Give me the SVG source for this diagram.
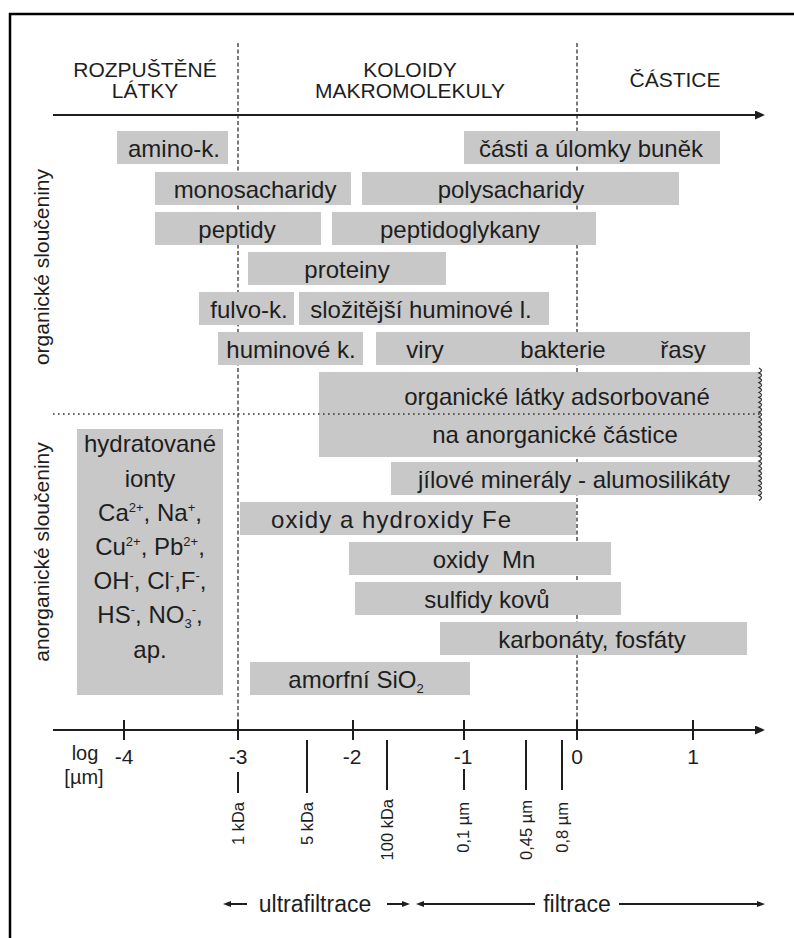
<svg xmlns="http://www.w3.org/2000/svg" width="794" height="938" viewBox="0 0 794 938">
<defs>
<style>
text { font-family: "Liberation Sans", Arial, Helvetica, sans-serif; fill: #1e1e1e; }
.box { fill: #c8c8c8; }
.lbl { font-size: 24px; text-anchor: middle; }
.hdr { font-size: 21px; text-anchor: middle; }
.ax { font-size: 21px; text-anchor: middle; }
.unit { font-size: 20px; text-anchor: middle; }
.rot { font-size: 16.5px; text-anchor: end; }
.side { font-size: 21px; text-anchor: middle; }
.bot { font-size: 23px; text-anchor: middle; }
.sup { font-size: 13px; }
.ln { stroke: #1e1e1e; stroke-width: 2; fill: none; }
.tk { stroke: #1e1e1e; stroke-width: 2; }
.dash { stroke: #333; stroke-width: 1.3; stroke-dasharray: 4 2.5; fill: none; }
.dot { stroke: #333; stroke-width: 1.6; stroke-dasharray: 1.6 3.4; fill: none; }
.wave { stroke: #333; stroke-width: 1.3; fill: none; }
</style>
<marker id="ah" viewBox="0 0 10 9" refX="4" refY="4.5" markerWidth="10" markerHeight="9" markerUnits="userSpaceOnUse" orient="auto">
<path d="M0,0 L10,4.5 L0,9 z" fill="#1e1e1e"/>
</marker>
<marker id="ahs" viewBox="0 0 8 6" refX="2" refY="3" markerWidth="8" markerHeight="6" markerUnits="userSpaceOnUse" orient="auto">
<path d="M0,0 L8,3 L0,6 z" fill="#1e1e1e"/>
</marker>
</defs>
<rect width="794" height="938" fill="#fff"/>
<rect x="10" y="14" width="800" height="940" fill="none" stroke="#000" stroke-width="2.5"/>

<g id="headers">
<text class="hdr" x="145" y="77">ROZPUŠTĚNÉ</text>
<text class="hdr" x="145" y="98">LÁTKY</text>
<text class="hdr" x="410" y="77">KOLOIDY</text>
<text class="hdr" x="410" y="98">MAKROMOLEKULY</text>
<text class="hdr" x="675" y="87">ČÁSTICE</text>
</g>

<g id="guides">
<line class="dash" x1="238" y1="43" x2="238" y2="730"/>
<line class="dash" x1="577" y1="43" x2="577" y2="730"/>
</g>

<g id="side-labels">
<text class="side" transform="translate(49,267) rotate(-90)">organické sloučeniny</text>
<text class="side" transform="translate(49,552) rotate(-90)">anorganické sloučeniny</text>
</g>

<g id="amino-k"><rect class="box" x="117" y="131" width="111" height="33"/><text class="lbl" x="174" y="157">amino-k.</text></g>
<g id="casti"><rect class="box" x="464" y="131" width="256" height="33"/><text class="lbl" x="591" y="157">části a úlomky buněk</text></g>
<g id="monosacharidy"><rect class="box" x="155" y="172" width="196" height="33"/><text class="lbl" x="255" y="198">monosacharidy</text></g>
<g id="polysacharidy"><rect class="box" x="362" y="172" width="317" height="33"/><text class="lbl" x="511" y="198">polysacharidy</text></g>
<g id="peptidy"><rect class="box" x="155" y="212" width="166" height="33"/><text class="lbl" x="237" y="238">peptidy</text></g>
<g id="peptidoglykany"><rect class="box" x="332" y="212" width="264" height="33"/><text class="lbl" x="460" y="238">peptidoglykany</text></g>
<g id="proteiny"><rect class="box" x="248" y="252" width="198" height="33"/><text class="lbl" x="347" y="278">proteiny</text></g>
<g id="fulvo-k"><rect class="box" x="199" y="292" width="95" height="33"/><text class="lbl" x="249" y="318">fulvo-k.</text></g>
<g id="slozitejsi"><rect class="box" x="299" y="292" width="250" height="33"/><text class="lbl" x="421" y="318">složitější huminové l.</text></g>
<g id="huminove-k"><rect class="box" x="218" y="332" width="145" height="33"/><text class="lbl" x="291" y="358">huminové k.</text></g>
<g id="viry-bakterie-rasy"><rect class="box" x="376" y="332" width="374" height="33"/>
<text class="lbl" x="425" y="358">viry</text><text class="lbl" x="563" y="358">bakterie</text><text class="lbl" x="683" y="358">řasy</text></g>
<g id="adsorbovane"><rect class="box" x="319" y="372" width="441" height="85"/>
<text class="lbl" x="557" y="405">organické látky adsorbované</text>
<text class="lbl" x="555" y="443">na anorganické částice</text></g>
<g id="jilove"><rect class="box" x="391" y="462" width="369" height="33"/><text class="lbl" x="574" y="488">jílové minerály - alumosilikáty</text></g>
<g id="oxidy-fe"><rect class="box" x="240" y="502" width="336" height="33"/><text class="lbl" x="391" y="528" textLength="240" lengthAdjust="spacing">oxidy a hydroxidy Fe</text></g>
<g id="oxidy-mn"><rect class="box" x="349" y="542" width="262" height="33"/><text class="lbl" x="484" y="568" xml:space="preserve" style="white-space:pre">oxidy  Mn</text></g>
<g id="sulfidy"><rect class="box" x="355" y="582" width="266" height="33"/><text class="lbl" x="487" y="608">sulfidy kovů</text></g>
<g id="karbonaty"><rect class="box" x="440" y="622" width="307" height="33"/><text class="lbl" x="592" y="648">karbonáty, fosfáty</text></g>
<g id="amorfni"><rect class="box" x="250" y="662" width="220" height="33"/><text class="lbl" x="356" y="688">amorfní SiO<tspan class="sup" dy="5">2</tspan></text></g>
<g id="hydratovane"><rect class="box" x="77" y="429" width="146" height="266"/>
<text class="lbl" x="150" y="452">hydratované</text>
<text class="lbl" x="150" y="487">ionty</text>
<text class="lbl" x="150" y="521">Ca<tspan class="sup" dy="-9">2+</tspan><tspan dy="9">, Na</tspan><tspan class="sup" dy="-9">+</tspan><tspan dy="9">,</tspan></text>
<text class="lbl" x="150" y="555">Cu<tspan class="sup" dy="-9">2+</tspan><tspan dy="9">, Pb</tspan><tspan class="sup" dy="-9">2+</tspan><tspan dy="9">,</tspan></text>
<text class="lbl" x="150" y="589">OH<tspan class="sup" dy="-9">-</tspan><tspan dy="9">, Cl</tspan><tspan class="sup" dy="-9">-</tspan><tspan dy="9">,F</tspan><tspan class="sup" dy="-9">-</tspan><tspan dy="9">,</tspan></text>
<text class="lbl" x="150" y="623">HS<tspan class="sup" dy="-9">-</tspan><tspan dy="9">, NO</tspan><tspan class="sup" dy="5">3</tspan><tspan class="sup" dy="-14">-</tspan><tspan dy="9">,</tspan></text>
<text class="lbl" x="150" y="658">ap.</text>
</g>

<g id="connectors">
<line class="dot" x1="53" y1="414" x2="760" y2="414"/>
<path class="wave" d="M759,368 q5,2.45 0,4.9 q5,2.45 0,4.9 q5,2.45 0,4.9 q5,2.45 0,4.9 q5,2.45 0,4.9 q5,2.45 0,4.9 q5,2.45 0,4.9 q5,2.45 0,4.9 q5,2.45 0,4.9 q5,2.45 0,4.9 q5,2.45 0,4.9 q5,2.45 0,4.9 q5,2.45 0,4.9 q5,2.45 0,4.9 q5,2.45 0,4.9 q5,2.45 0,4.9 q5,2.45 0,4.9 q5,2.45 0,4.9 q5,2.45 0,4.9 q5,2.45 0,4.9 q5,2.45 0,4.9 q5,2.45 0,4.9 q5,2.45 0,4.9 q5,2.45 0,4.9 q5,2.45 0,4.9 q5,2.45 0,4.9 q5,2.45 0,4.9"/>
<line class="ln" x1="53" y1="115" x2="759" y2="115" marker-end="url(#ah)"/>
<line class="ln" x1="53" y1="730" x2="759" y2="730" marker-end="url(#ah)"/>
<line class="tk" x1="124" y1="720" x2="124" y2="740"/>
<line class="tk" x1="238" y1="720" x2="238" y2="740"/>
<line class="tk" x1="353" y1="720" x2="353" y2="740"/>
<line class="tk" x1="464" y1="720" x2="464" y2="740"/>
<line class="tk" x1="577" y1="720" x2="577" y2="740"/>
<line class="tk" x1="693" y1="720" x2="693" y2="740"/>
<line class="tk" x1="238" y1="772" x2="238" y2="793"/>
<line class="tk" x1="307" y1="740" x2="307" y2="793"/>
<line class="tk" x1="387" y1="740" x2="387" y2="790"/>
<line class="tk" x1="464" y1="769" x2="464" y2="790"/>
<line class="tk" x1="526" y1="740" x2="526" y2="790"/>
<line class="tk" x1="562" y1="740" x2="562" y2="790"/>
<line class="ln" x1="247" y1="904" x2="229" y2="904" marker-end="url(#ahs)"/>
<line class="ln" x1="387" y1="904" x2="404" y2="904" marker-end="url(#ahs)"/>
<line class="ln" x1="535" y1="904" x2="422" y2="904" marker-end="url(#ahs)"/>
<line class="ln" x1="619" y1="904" x2="759" y2="904" marker-end="url(#ahs)"/>
</g>

<g id="axis-labels">
<text class="unit" x="85" y="760">log</text>
<text class="unit" x="84" y="784">[µm]</text>
<text class="ax" x="124" y="764">-4</text>
<text class="ax" x="238" y="764">-3</text>
<text class="ax" x="352" y="764">-2</text>
<text class="ax" x="463" y="764">-1</text>
<text class="ax" x="577" y="764">0</text>
<text class="ax" x="693" y="764">1</text>
<text class="rot" transform="translate(244,802) rotate(-90)">1 kDa</text>
<text class="rot" transform="translate(313,802) rotate(-90)">5 kDa</text>
<text class="rot" transform="translate(393,799) rotate(-90)">100 kDa</text>
<text class="rot" transform="translate(469,802) rotate(-90)">0,1 µm</text>
<text class="rot" transform="translate(532,800) rotate(-90)">0,45 µm</text>
<text class="rot" transform="translate(568,802) rotate(-90)">0,8 µm</text>
<text class="bot" x="315" y="912">ultrafiltrace</text>
<text class="bot" x="577" y="912">filtrace</text>
</g>
</svg>
